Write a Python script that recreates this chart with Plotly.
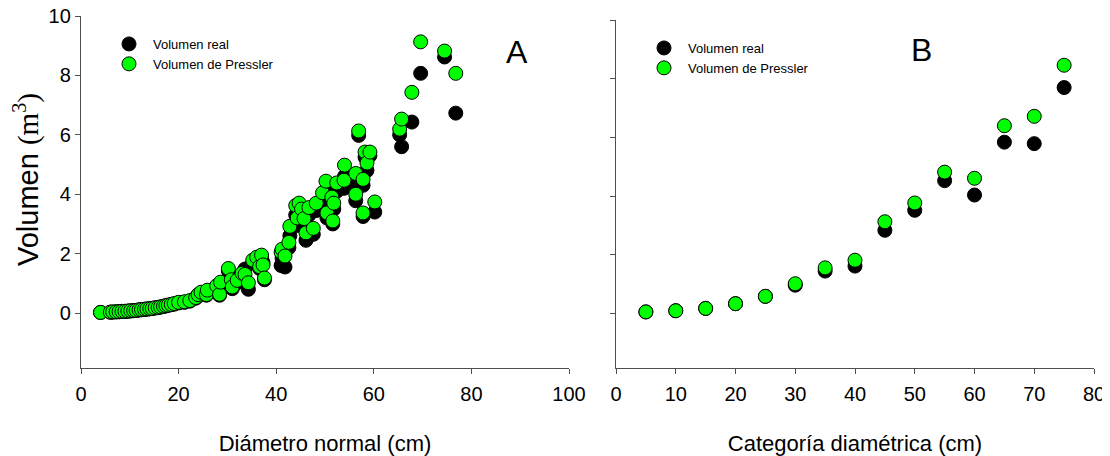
import plotly.graph_objects as go

# ---- Panel A: individual trees ----
diam_a = [4.0, 6.0, 6.5, 7.2, 7.8, 8.4, 9.0, 9.6, 10.2, 10.8, 11.3, 11.9, 12.4, 13.0, 13.5,
          14.1, 14.6, 15.2, 15.8, 16.3, 16.9, 17.4, 17.9, 18.5, 19.1, 20.0, 21.2, 22.3, 23.5,
          24.0, 24.6, 25.7, 25.9, 27.8, 28.4, 28.6, 30.2, 30.8, 31.0, 32.0, 33.0, 33.6, 34.3,
          35.2, 36.0, 36.6, 37.0, 37.3, 37.6, 41.0, 41.2, 41.8, 42.6, 42.8, 44.0, 44.3, 44.7,
          45.2, 45.7, 46.1, 46.7, 47.6, 48.2, 49.5, 50.2, 50.4, 51.4, 51.6, 51.8, 52.4, 53.9,
          54.0, 56.3, 56.3, 56.9, 57.8, 57.8, 58.2, 58.6, 59.2, 60.2, 65.3, 65.7, 67.8, 69.6,
          74.5, 76.8]
vol_real_a = [0.02, 0.03, 0.03, 0.04, 0.04, 0.05, 0.05, 0.06, 0.07, 0.08, 0.09, 0.10, 0.11, 0.12, 0.13,
              0.14, 0.15, 0.17, 0.18, 0.20, 0.22, 0.24, 0.26, 0.28, 0.30, 0.34, 0.36, 0.40, 0.50,
              0.58, 0.66, 0.60, 0.74, 0.85, 0.60, 0.98, 1.42, 1.05, 0.82, 1.02, 1.28, 1.48, 0.80,
              1.70, 1.80, 1.50, 1.85, 1.70, 1.12, 1.60, 1.85, 1.55, 2.20, 2.60, 3.30, 2.95, 3.40,
              3.25, 2.95, 2.45, 3.30, 2.65, 3.45, 3.70, 4.10, 3.20, 3.70, 3.00, 3.50, 4.10, 4.20,
              4.60, 3.78, 4.40, 5.98, 4.30, 3.25, 5.25, 4.80, 5.30, 3.40, 6.00, 5.60, 6.43, 8.07,
              8.62, 6.73]
vol_pressler_a = [0.02, 0.03, 0.04, 0.04, 0.05, 0.06, 0.06, 0.07, 0.08, 0.08, 0.09, 0.11, 0.12, 0.13, 0.14,
                  0.15, 0.16, 0.18, 0.19, 0.21, 0.23, 0.25, 0.27, 0.29, 0.32, 0.36, 0.38, 0.42, 0.52,
                  0.62, 0.70, 0.62, 0.77, 0.92, 0.63, 1.04, 1.50, 1.12, 0.88, 1.10, 1.34, 1.30, 1.02,
                  1.78, 1.88, 1.56, 1.95, 1.62, 1.18, 2.05, 2.15, 1.92, 2.38, 2.92, 3.62, 3.20, 3.70,
                  3.50, 3.18, 2.70, 3.55, 2.85, 3.70, 4.05, 4.44, 3.37, 3.90, 3.10, 3.70, 4.38, 4.47,
                  4.98, 4.00, 4.70, 6.13, 4.50, 3.37, 5.42, 5.05, 5.42, 3.74, 6.19, 6.53, 7.43, 9.13,
                  8.82, 8.07]

# ---- Panel B: diameter classes ----
cat_b = [5, 10, 15, 20, 25, 30, 35, 40, 45, 50, 55, 60, 65, 70, 75]
vol_real_b = [0.06, 0.10, 0.18, 0.34, 0.59, 0.97, 1.45, 1.62, 2.84, 3.52, 4.53, 4.04, 5.84, 5.79, 7.70]
vol_pressler_b = [0.06, 0.10, 0.18, 0.34, 0.59, 1.02, 1.56, 1.82, 3.13, 3.77, 4.82, 4.61, 6.40, 6.72, 8.46]

y_ticks = [0, 2, 4, 6, 8, 10]
xa_ticks = [0, 20, 40, 60, 80, 100]
xb_ticks = [0, 10, 20, 30, 40, 50, 60, 70, 80]

FONT = "Liberation Sans, Arial, sans-serif"
GREEN = "#00FF00"
AXC = "#505050"

# page body has an 8px margin: figure is sized/placed to compensate
W, H = 1102, 448
OFF = 8


def px_x(p):
    return (p - OFF) / W


def px_y(p):
    return 1 - (p - OFF) / H


fig = go.Figure()


def mk(x, y, name, color, xa, ya, legend):
    return go.Scatter(x=x, y=y, mode="markers", name=name, xaxis=xa, yaxis=ya,
                      legend=legend,
                      marker=dict(size=14, color=color, line=dict(color="black", width=1)))


fig.add_trace(mk(diam_a, vol_real_a, "Volumen real", "black", "x", "y", "legend"))
fig.add_trace(mk(diam_a, vol_pressler_a, "Volumen de Pressler", GREEN, "x", "y", "legend"))
fig.add_trace(mk(cat_b, vol_real_b, "Volumen real", "black", "x2", "y2", "legend2"))
fig.add_trace(mk(cat_b, vol_pressler_b, "Volumen de Pressler", GREEN, "x2", "y2", "legend2"))

axis_common = dict(showline=True, linecolor=AXC, linewidth=1.3, ticks="outside",
                   ticklen=5, tickcolor=AXC, tickwidth=1.3, showgrid=False, zeroline=False,
                   ticklabeloverflow="allow",
                   tickfont=dict(family=FONT, size=20, color="black"), automargin=False)

leg_common = dict(xanchor="left", yanchor="top", bgcolor="rgba(0,0,0,0)",
                  font=dict(family=FONT, size=13, color="black"), itemsizing="trace",
                  tracegroupgap=0, itemwidth=38)

fig.update_layout(
    width=W, height=H,
    margin=dict(l=0, r=0, t=0, b=0),
    paper_bgcolor="white", plot_bgcolor="white",
    font=dict(family=FONT, color="black"),
    xaxis=dict(domain=[px_x(81), px_x(569)], range=[0, 100], tickvals=xa_ticks,
               anchor="y", ticklabelstandoff=3,
               title=dict(text="Diámetro normal (cm)", font=dict(size=22), standoff=31),
               **axis_common),
    yaxis=dict(domain=[px_y(368), px_y(16)], range=[-1.85, 10], tickvals=y_ticks,
               anchor="x", ticklabelstandoff=0,
               **axis_common),
    xaxis2=dict(domain=[px_x(616), px_x(1094)], range=[0, 80], tickvals=xb_ticks,
                anchor="y2", ticklabelstandoff=3,
                title=dict(text="Categoría diamétrica (cm)", font=dict(size=22), standoff=31),
                **axis_common),
    yaxis2=dict(domain=[px_y(368), px_y(20)], range=[-1.85, 10], tickvals=y_ticks,
                anchor="x2", showticklabels=False, **axis_common),
    legend=dict(x=px_x(105), y=px_y(29), **leg_common),
    legend2=dict(x=px_x(640), y=px_y(33), **leg_common),
    annotations=[
        dict(text="Volumen <span style='font-family:Liberation Serif'>(m<sup>3</sup>)</span>",
             x=px_x(26), y=px_y(180), xref="paper", yref="paper", showarrow=False,
             textangle=-90, xanchor="center", yanchor="middle",
             font=dict(family=FONT, size=29, color="black")),
        dict(text="A", x=px_x(517), y=px_y(52), xref="paper", yref="paper", showarrow=False,
             xanchor="center", yanchor="middle",
             font=dict(family=FONT, size=32, color="black")),
        dict(text="B", x=px_x(921), y=px_y(50), xref="paper", yref="paper", showarrow=False,
             xanchor="center", yanchor="middle",
             font=dict(family=FONT, size=32, color="black")),
    ],
)

fig.write_html("out.html")
